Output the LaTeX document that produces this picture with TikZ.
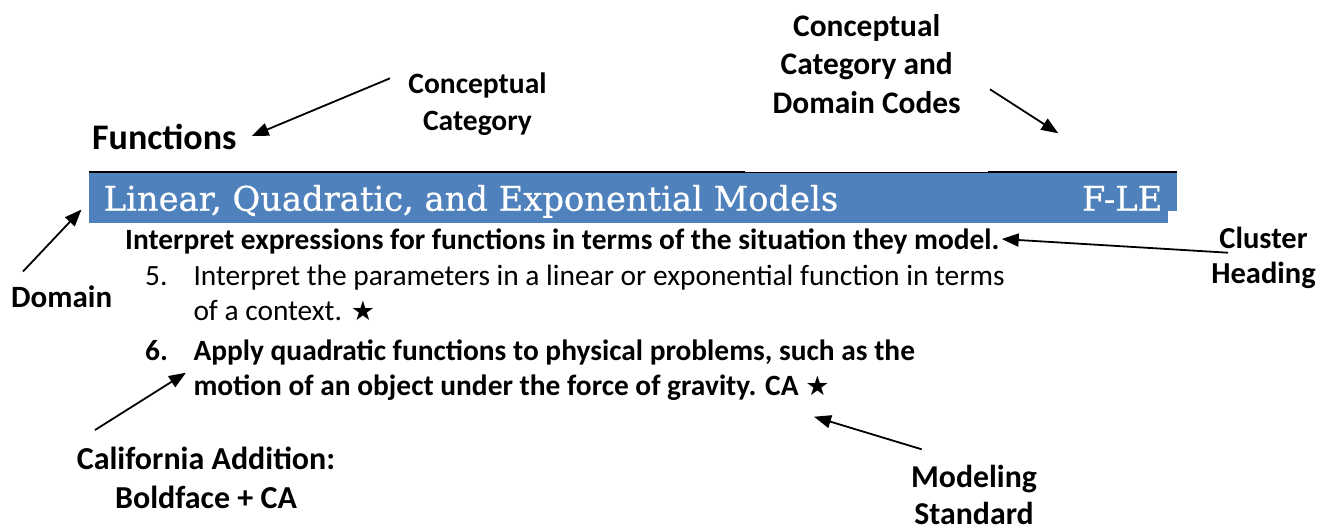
\documentclass[tikz,border=0pt]{standalone}
\usepackage{fontspec}
\setmainfont{Carlito}
\newfontfamily\bannerfont[FakeBold=0.6]{DejaVu Serif}
\newfontfamily\symfont{DejaVu Sans}
\usetikzlibrary{arrows.meta}
\definecolor{bannerblue}{HTML}{4F81BD}
\newlength\bannerw
\newcommand\starmark{{\symfont\fontsize{27}{30}\selectfont ★}}
\begin{document}
\settowidth{\bannerw}{\bannerfont\fontsize{34}{40}\selectfont Linear, Quadratic, and Exponential Models}%
\pgfmathsetmacro\bsx{734.5/\bannerw}%
\begin{tikzpicture}[x=1pt,y=-1pt,
  lbl/.style 2 args={font=\bfseries\fontsize{#1}{#2}\selectfont, align=center, inner sep=0pt, anchor=base},
  bodytext/.style={font=\fontsize{29.4}{35}\selectfont, inner sep=0pt, anchor=base west},
  bodybold/.style={font=\bfseries\fontsize{29.4}{35}\selectfont, inner sep=0pt, anchor=base west},
  bannertext/.style={font=\bannerfont\fontsize{34}{40}\selectfont, text=white, inner sep=0pt},
  arr/.style={-{Triangle[length=17pt,width=13pt]}, line width=1.8pt},
]
\useasboundingbox (0,0) rectangle (1321,531);

% banner
\fill[bannerblue] (89,173) rectangle (1168,222.7);
\fill[bannerblue] (1168,173) rectangle (1177,211);
\draw[line width=2.2pt] (89,172.3) -- (745,172.3);
\draw[line width=1pt] (745,172.3) -- (988,172.3);
\draw[line width=2.2pt] (988,172.3) -- (1177,172.3);
\node[bannertext, anchor=base west] (domainname) at (103.5,210.7) {\scalebox{\bsx}[1]{Linear, Quadratic, and Exponential Models}};
\node[bannertext, anchor=base east] (code) at (1162.5,210.7) {\scalebox{\bsx}[1]{F-LE}};

% category
\node[font=\bfseries\fontsize{36}{43}\selectfont, inner sep=0pt, anchor=base west] (functions) at (92,149.3) {Functions};

% standards text
\node[bodybold] (cluster) at (125,249) {Interpret expressions for functions in terms of the situation they model.};
\node[bodytext] (n5) at (145,285.7) {5.};
\node[bodytext] (s5a) at (193.3,285.7) {Interpret the parameters in a linear or exponential function in terms};
\node[bodytext] (s5b) at (193.3,320.7) {of a context. \starmark};
\node[bodybold] (n6) at (145,360) {6.};
\node[bodybold] (s6a) at (193.3,360) {Apply quadratic functions to physical problems, such as the};
\node[bodybold] (s6b) at (193.3,395) {motion of an object under the force of gravity. CA \starmark};

% labels (base anchor = baseline of the last line)
\node[lbl={29.5}{37}] (lcc) at (477.5,130) {Conceptual\\Category};
\node[lbl={31.4}{38.3}] (lcodes) at (866.7,113) {Conceptual\\Category and\\Domain Codes};
\node[lbl={30.5}{35}] (lcluster) at (1263.5,283) {Cluster\\Heading};
\node[lbl={31}{38}] (ldomain) at (61.7,307) {Domain};
\node[lbl={32}{39}] (lca) at (206,508) {California Addition:\\Boldface + CA};
\node[lbl={31.8}{36.7}] (lmodel) at (974,524.5) {Modeling\\Standard};

% arrow end points
\coordinate (ccT) at (390,78.3);   \coordinate (ccH) at (251.7,136);
\coordinate (coT) at (990,89.3);   \coordinate (coH) at (1058.3,133.3);
\coordinate (clT) at (1228,252.7); \coordinate (clH) at (1001.7,239);
\coordinate (doT) at (23,271.5);   \coordinate (doH) at (81.5,209.5);
\coordinate (caT) at (95,430);     \coordinate (caH) at (186,372.7);
\coordinate (moT) at (921.7,449.3); \coordinate (moH) at (814,416.7);

\draw[arr] (ccT) -- (ccH);
\draw[arr] (coT) -- (coH);
\draw[arr] (clT) -- (clH);
\draw[arr] (doT) -- (doH);
\draw[arr] (caT) -- (caH);
\draw[arr] (moT) -- (moH);
\end{tikzpicture}
\end{document}
